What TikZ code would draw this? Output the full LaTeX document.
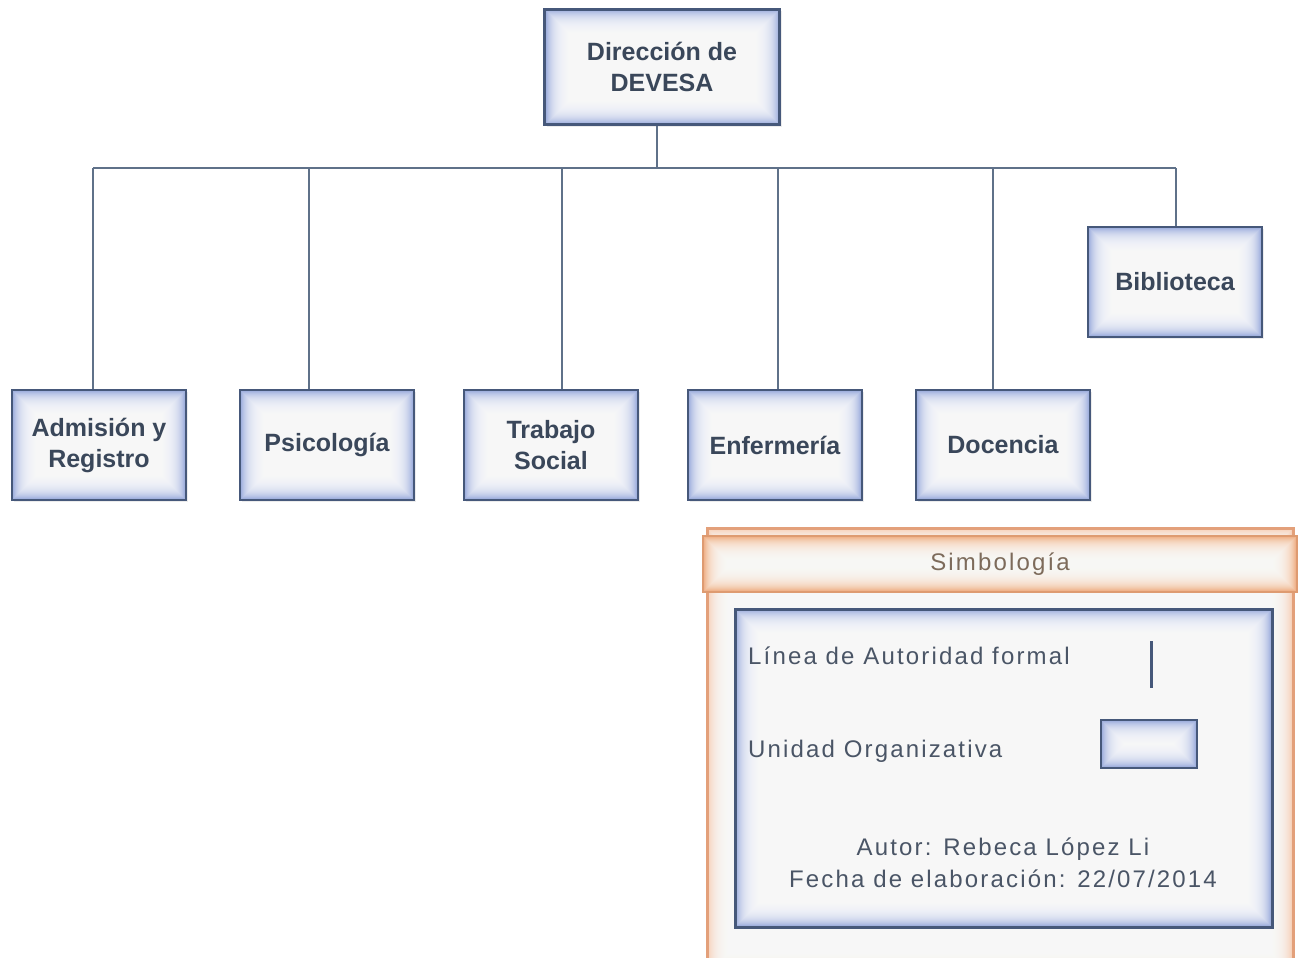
\documentclass[tikz,border=0pt]{standalone}
\usepackage{fontspec}
\setmainfont{Liberation Sans}
\newfontfamily\legendfont[LetterSpace=9]{Liberation Sans}
\usetikzlibrary{shadows}
\definecolor{linec}{HTML}{5F7189}
\definecolor{boxborder}{HTML}{46587A}
\definecolor{boxglow}{HTML}{94A7DA}
\definecolor{txt}{HTML}{3A475A}
\definecolor{legtxt}{HTML}{4A5566}
\definecolor{orangeb}{HTML}{E3A07A}
\definecolor{orangeglow}{HTML}{EFAA7E}
\definecolor{simb}{HTML}{7D6B5B}
\begin{document}
\begin{tikzpicture}[x=1pt,y=-1pt,
  glowfill/.style={fill=#1, path picture={
    \foreach \i in {1,...,24}{
      \fill[white,opacity=0.12]
        ([shift={(\i*1pt,-\i*1pt)}]path picture bounding box.north west) rectangle
        ([shift={(-\i*1pt,\i*1pt)}]path picture bounding box.south east);}}},
  unit/.style={draw=boxborder, line width=2.5pt, glowfill=boxglow,
    minimum width=174pt, minimum height=110pt, align=center,
    font=\fontsize{25}{31}\selectfont\bfseries, text=txt,
    drop shadow={opacity=0.15, shadow xshift=2pt, shadow yshift=-2pt}},
  conn/.style={draw=linec, line width=2pt},
  legtext/.style={font=\legendfont\fontsize{24}{32}\selectfont, text=legtxt, inner sep=0pt}]
\useasboundingbox (0,0) rectangle (1299,958);
\fill[white] (0,0) rectangle (1299,958);

% units
\node[unit, minimum width=235pt, minimum height=115pt] (dir) at (662,67) {Dirección de\\DEVESA};
\node[unit] (adm) at (99,445) {Admisión y\\Registro};
\node[unit] (psi) at (327,445) {Psicología};
\node[unit] (tra) at (551,445) {Trabajo\\Social};
\node[unit] (enf) at (775,445) {Enfermería};
\node[unit] (doc) at (1003,445) {Docencia};
\node[unit] (bib) at (1175,282) {Biblioteca};

% connectors
\coordinate (j0) at (657,168);
\coordinate (ja) at (93,168);
\coordinate (jp) at (309,168);
\coordinate (jt) at (562,168);
\coordinate (je) at (778,168);
\coordinate (jd) at (993,168);
\coordinate (jb) at (1176,168);
\draw[conn] (dir.south -| j0) -- (j0);
\draw[conn] (ja) -- (jb);
\draw[conn] (ja) -- (adm.north -| ja);
\draw[conn] (jp) -- (psi.north -| jp);
\draw[conn] (jt) -- (tra.north -| jt);
\draw[conn] (je) -- (enf.north -| je);
\draw[conn] (jd) -- (doc.north -| jd);
\draw[conn] (jb) -- (bib.north -| jb);

% legend
\draw[draw=orangeb, line width=3pt, glowfill=orangeglow!60] (707,528) rectangle (1293,975);
\node[draw=orangeb!85!brown, line width=2pt, glowfill=orangeglow,
  minimum width=594pt, minimum height=56pt,
  font=\legendfont\fontsize{24}{28}\selectfont, text=simb] (simb) at (1000,564) {Simbología};
\node[draw=boxborder, line width=3pt, glowfill=boxglow,
  minimum width=537pt, minimum height=318pt] (leg) at (1003.5,768) {};
\node[legtext, anchor=west] (l1) at (748,656) {Línea de Autoridad formal};
\coordinate (s1) at (1151,641);
\coordinate (s2) at (1151,688);
\draw[draw=boxborder, line width=3pt] (s1) -- (s2);
\node[legtext, anchor=west] (l2) at (748,751) {Unidad Organizativa};
\node[draw=boxborder, line width=2.5pt, glowfill=boxglow,
  minimum width=96pt, minimum height=48pt] (sbox) at (1149,744) {};
\node[legtext, align=center] (aut) at (1003,863) {Autor: Rebeca López Li\\Fecha de elaboración: 22/07/2014};
\end{tikzpicture}
\end{document}
